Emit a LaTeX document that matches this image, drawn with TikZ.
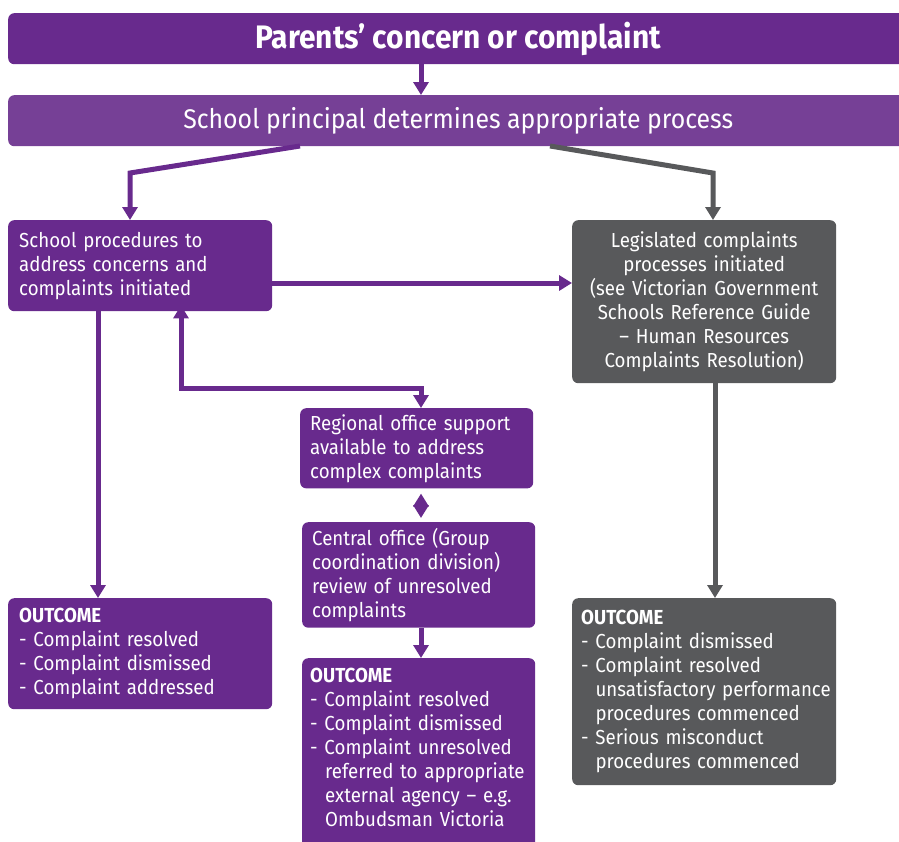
\documentclass[tikz,border=0pt]{standalone}
\usepackage{fontspec}
\setmainfont[FakeStretch=0.92]{Fira Sans}
\usetikzlibrary{arrows.meta}
\definecolor{cpurple}{RGB}{104,42,141}
\definecolor{clight}{RGB}{118,64,150}
\definecolor{cgrey}{RGB}{88,89,91}
\hyphenpenalty=10000
\begin{document}
\begin{tikzpicture}[x=1pt, y=-1pt,
                box/.style = {rounded corners=6pt, anchor=north west, inner xsep=11pt, inner ysep=6pt, text=white, font=\fontsize{20.3}{24}\selectfont},
                pbox/.style = {box, fill=cpurple, align=left},
                gbox/.style = {box, fill=cgrey, align=center},
                arr/.style = {draw=cpurple, line width=5pt, -{Triangle[length=13pt, width=15pt]}},
                garr/.style = {arr, draw=cgrey},
            ]
            \useasboundingbox (0,0) rectangle (899,841);

            \node (top) [pbox, minimum width=900pt, minimum height=51pt, align=center, font=\fontsize{32.5}{36}\selectfont\bfseries] at (8,13) {Parents’ concern or complaint};
            \node (principal) [box, fill=clight, minimum width=900pt, minimum height=51pt, align=center, font=\fontsize{27}{32}\selectfont] at (8,95) {School principal determines appropriate process};

            \node (school) [pbox, text width=242pt, minimum height=91pt] at (8,220) {School procedures to\\address concerns and\\complaints initiated};
            \node (legis) [gbox, text width=242pt, minimum height=163pt] at (572,220) {Legislated complaints\\processes initiated\\(see Victorian Government\\Schools Reference Guide\\– Human Resources\\Complaints Resolution)};

            \node (reg) [pbox, text width=213pt, inner xsep=10pt, minimum height=79pt] at (300,408) {Regional office support\\available to address\\complex complaints};
            \node (cen) [pbox, text width=213pt, inner xsep=10pt, minimum height=103pt] at (302,522) {Central office (Group\\coordination division)\\review of unresolved\\complaints};

            \node (outl) [pbox, text width=242pt, minimum height=111pt] at (8,598) {\textbf{OUTCOME}\\- Complaint resolved\\- Complaint dismissed\\- Complaint addressed};
            \node (outm) [pbox, text width=217pt, inner xsep=8pt, inner ysep=10pt] at (302,658) {\textbf{OUTCOME}\\- Complaint resolved\\- Complaint dismissed\\- Complaint unresolved\\\mbox{\hspace*{15pt}referred to appropriate}\\\mbox{\hspace*{15pt}external agency – e.g.}\\\mbox{\hspace*{15pt}Ombudsman Victoria}\\\strut};
            \node (outr) [gbox, align=left, text width=246pt, inner xsep=9pt, minimum height=187pt] at (572,598) {\textbf{OUTCOME}\\- Complaint dismissed\\- Complaint resolved\\\mbox{\phantom{- }unsatisfactory performance}\\\mbox{\phantom{- }procedures commenced}\\- Serious misconduct\\\mbox{\phantom{- }procedures commenced}};

            \coordinate (mid) at (421,0);
            \coordinate (lstart) at (300,146);
            \coordinate (lbend) at (130,173);
            \coordinate (rstart) at (550,146);
            \coordinate (rbend) at (713,173);
            \coordinate (hlev) at (0,283);
            \coordinate (back) at (181,388);

            \path[arr] (top.south -| mid) -- (principal.north -| mid);
            \path[arr] (lstart) -- (lbend) -- (lbend |- school.north);
            \path[garr] (rstart) -- (rbend) -- (rbend |- legis.north);
            \path[arr] (school.east |- hlev) -- (legis.west |- hlev);
            \path[arr] (school.south -| 98,0) -- (outl.north -| 98,0);
            \path[arr, {Triangle[length=13pt, width=15pt]}-{Triangle[length=13pt, width=15pt]}] ([yshift=6pt]school.south -| back) -- (back) -| (reg.north -| mid);
            \path[arr, {Triangle[length=13pt, width=15pt]}-{Triangle[length=13pt, width=15pt]}, shorten <=5pt, shorten >=4pt] (reg.south -| mid) -- (cen.north -| mid);
            \path[arr] (cen.south -| mid) -- (outm.north -| mid);
            \path[garr] (legis.south -| 715,0) -- (outr.north -| 715,0);
        \end{tikzpicture}
\end{document}
